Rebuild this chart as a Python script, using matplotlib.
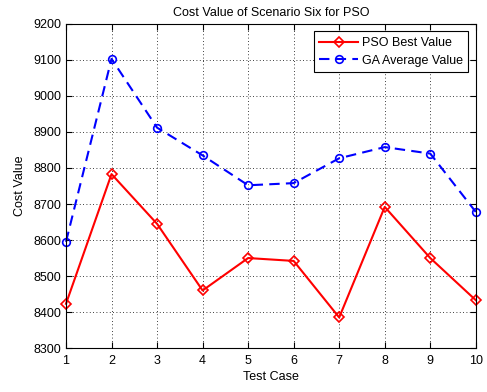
import matplotlib.pyplot as plt
import numpy as np

test_case = [1, 2, 3, 4, 5, 6, 7, 8, 9, 10]
pso_best = [8423, 8783, 8645, 8460, 8550, 8542, 8385, 8692, 8550, 8433]
ga_avg = [8595, 9103, 8912, 8835, 8752, 8758, 8827, 8858, 8840, 8678]

plt.rcParams['font.family'] = ['Liberation Sans', 'DejaVu Sans']
plt.rcParams['font.size'] = 9

fig = plt.figure(figsize=(4.87, 3.92), dpi=100)
ax = fig.add_axes([0.1355, 0.112, 0.8415, 0.827])

ax.plot(test_case, pso_best, color='red', lw=1.5, marker='D', ms=5,
        mfc='none', mec='red', mew=1.2, label='PSO Best Value', clip_on=False)
ax.plot(test_case, ga_avg, color='blue', lw=1.5, ls=(0, (5, 3)), marker='o', ms=5.5,
        mfc='none', mec='blue', mew=1.2, label='GA Average Value', clip_on=False)

ax.set_xlim(1, 10)
ax.set_ylim(8300, 9200)
ax.set_xticks(test_case)
ax.set_yticks(np.arange(8300, 9201, 100))
ax.tick_params(direction='in', top=True, right=True, length=4)
ax.tick_params(axis='x', pad=5)
ax.grid(True, color='black', ls=(0, (1, 3)), lw=0.6)

ax.set_title('Cost Value of Scenario Six for PSO', fontsize=9, pad=6)
ax.set_xlabel('Test Case', labelpad=3)
ax.set_ylabel('Cost Value', labelpad=5)

leg = ax.legend(loc='upper right', fancybox=False, edgecolor='black',
                framealpha=1, borderaxespad=0.6, handlelength=3.1,
                handletextpad=0.3, borderpad=0.45, labelspacing=0.45)
leg.get_frame().set_linewidth(0.8)

fig.savefig('out.png', dpi=100)
